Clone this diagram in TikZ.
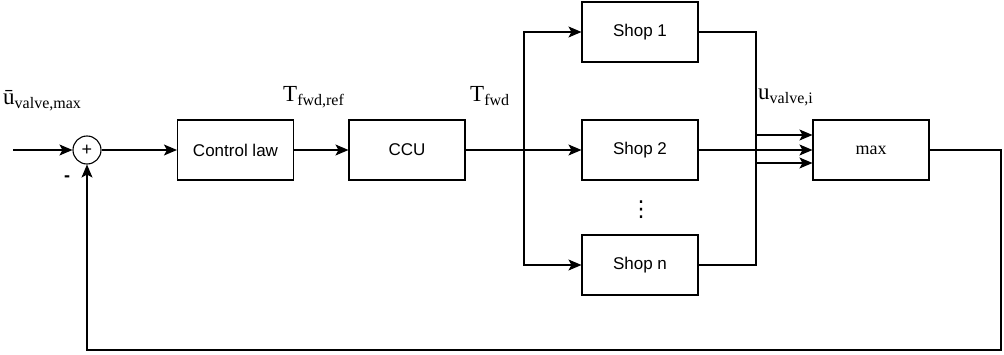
\documentclass[tikz,border=0pt]{standalone}
\usepackage{fontspec}
\setmainfont{Liberation Serif}
\setsansfont{Liberation Sans}
\newfontfamily\symfont{DejaVu Sans}
\usetikzlibrary{arrows.meta,positioning}
\newcommand{\sig}[2]{{\fontsize{23}{23}\selectfont #1}{\fontsize{16}{16}\selectfont\raisebox{-4pt}{#2}}}

\begin{document}
\begin{tikzpicture}[
  x=1pt, y=-1pt,
  font=\sffamily\fontsize{17}{20}\selectfont,
  box/.style={draw, line width=1.1pt, minimum width=116pt, minimum height=60pt, inner sep=0pt},
  arr/.style={-{Stealth[length=13pt,width=11pt,inset=3pt]}, line width=1.2pt},
  lbl/.style={anchor=base west, inner sep=0pt, font=\rmfamily}
]
\useasboundingbox (0,0) rectangle (1004,355);

\node[draw, circle, line width=1.1pt, minimum size=28pt, inner sep=0pt,
      font=\sffamily\fontsize{18}{18}\selectfont] (sum) at (87,150) {+};
\node[box] (ctrl) at (235.5,150) {Control law};
\node[box] (ccu)  at (407,150)   {CCU};
\node[box] (shop1) at (640,32)  {Shop 1};
\node[box] (shop2) at (640,150) {Shop 2};
\node[box] (shopn) at (640,265) {Shop n};
\node[box, font=\rmfamily\fontsize{18}{20}\selectfont] (max) at (871,150) {max};
\node[inner sep=0pt, font=\symfont\fontsize{22}{22}\selectfont] (dots) at (641,210) {⋮};

\node[lbl] (uref) at (3,105)   {\sig{ū}{valve,max}};
\node[lbl] (tref) at (283,102) {\sig{T}{fwd,ref}};
\node[lbl] (tfwd) at (470,102) {\sig{T}{fwd}};
\node[lbl] (uval) at (758,100) {\sig{u}{valve,i}};
\node[inner sep=0pt, font=\sffamily\bfseries\fontsize{18}{18}\selectfont] (minus) at (67,179) {-};

\coordinate (in) at (13,150);
\coordinate (branch) at (524,150);
\coordinate (join) at (756,150);
\coordinate (fb) at (1001,350);

\draw[arr] (in) -- (sum);
\draw[arr] (sum) -- (ctrl);
\draw[arr] (ctrl) -- (ccu);
\draw[line width=1.2pt] (ccu) -- (branch);
\draw[arr] (branch) -- (shop2);
\draw[arr] (branch) |- (shop1);
\draw[arr] (branch) |- (shopn);

\draw[arr] (shop1) -| (join) |- ([yshift=15pt]max.west);
\draw[arr] (shop2) -- (max);
\draw[arr] (shopn) -| (join) |- ([yshift=-13pt]max.west);

\draw[arr] (max) -| (fb) -| (sum);
\end{tikzpicture}
\end{document}
